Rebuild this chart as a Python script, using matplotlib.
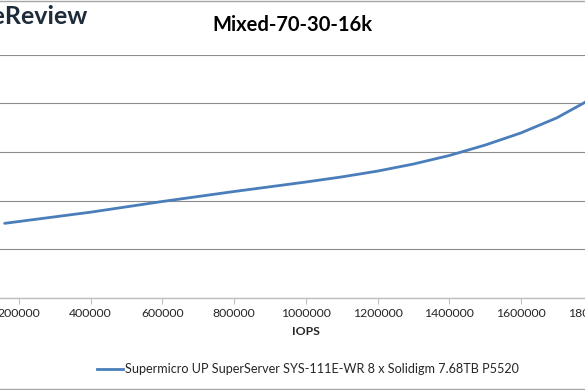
import matplotlib
matplotlib.use("Agg")
import matplotlib.pyplot as plt
from matplotlib.lines import Line2D

# data (latency axis is cropped out, values in ms are estimates)
iops = [160000, 400000, 600000, 800000, 1000000, 1100000, 1200000, 1300000,
        1400000, 1500000, 1600000, 1700000, 1774000, 1840000]
latency = [0.306, 0.352, 0.396, 0.437, 0.476, 0.497, 0.521, 0.550,
           0.585, 0.628, 0.678, 0.740, 0.800, 0.862]
series_name = "Supermicro UP SuperServer SYS-111E-WR 8 x Solidigm 7.68TB P5520"
x_ticks = list(range(0, 2000001, 200000))
y_ticks = [0, 0.2, 0.4, 0.6, 0.8, 1.0]

plt.rcParams['font.family'] = ['Lato', 'DejaVu Sans']

W, H = 585, 390
fig = plt.figure(figsize=(W / 100, H / 100), dpi=100)

# the reference is a crop, so the axes run past the figure edges
left_px, right_px = -52.7, 664.3
top_px, bottom_px = 54.7, 297.7
ax = fig.add_axes([left_px / W, 1 - bottom_px / H,
                   (right_px - left_px) / W, (bottom_px - top_px) / H])

ax.plot(iops, latency, color='#4a7ebb', lw=2.0, solid_capstyle='round',
        solid_joinstyle='round')
ax.set_xlim(0, 2000000)
ax.set_ylim(0, 1.0)
ax.set_xticks(x_ticks)
ax.set_xticklabels([str(t) for t in x_ticks], fontsize=8.8, color='#262626')
ax.set_yticks(y_ticks)
ax.set_yticklabels([])
ax.tick_params(axis='y', length=0)
ax.tick_params(axis='x', direction='out', length=4, width=0.8,
               color='#bfbfbf', pad=3.5)
ax.grid(axis='y', color='#8c8c8c', lw=0.8)
ax.set_axisbelow(True)
for s in ['top', 'right', 'left']:
    ax.spines[s].set_visible(False)
ax.spines['bottom'].set_color('#bfbfbf')
ax.spines['bottom'].set_linewidth(1.0)

ax.set_xlabel('IOPS', fontsize=8.8, fontweight='bold', color='#262626', labelpad=5)

fig.text(292.5 / W, 1 - 25 / H, 'Mixed-70-30-16k', ha='center', va='center',
         fontsize=14.5, fontweight='bold', color='black')
fig.text(88 / W, 1 - 17 / H, 'StorageReview', ha='right', va='center',
         fontsize=18, color='#1d2b3a', fontweight='bold')

fig.legend(handles=[Line2D([], [], color='#4a7ebb', lw=2.0)], labels=[series_name],
           loc='center', bbox_to_anchor=(308 / W, 1 - 369 / H), frameon=False,
           fontsize=9.1, handlelength=2.1, handletextpad=0.15, labelcolor='#262626')

fig.add_artist(Line2D([0, 1], [1 - 0.5 / H, 1 - 0.5 / H], color='#a6a6a6', lw=1.0))
fig.add_artist(Line2D([0, 1], [1.5 / H, 1.5 / H], color='#a6a6a6', lw=1.0))

fig.savefig('out.png', dpi=100)
